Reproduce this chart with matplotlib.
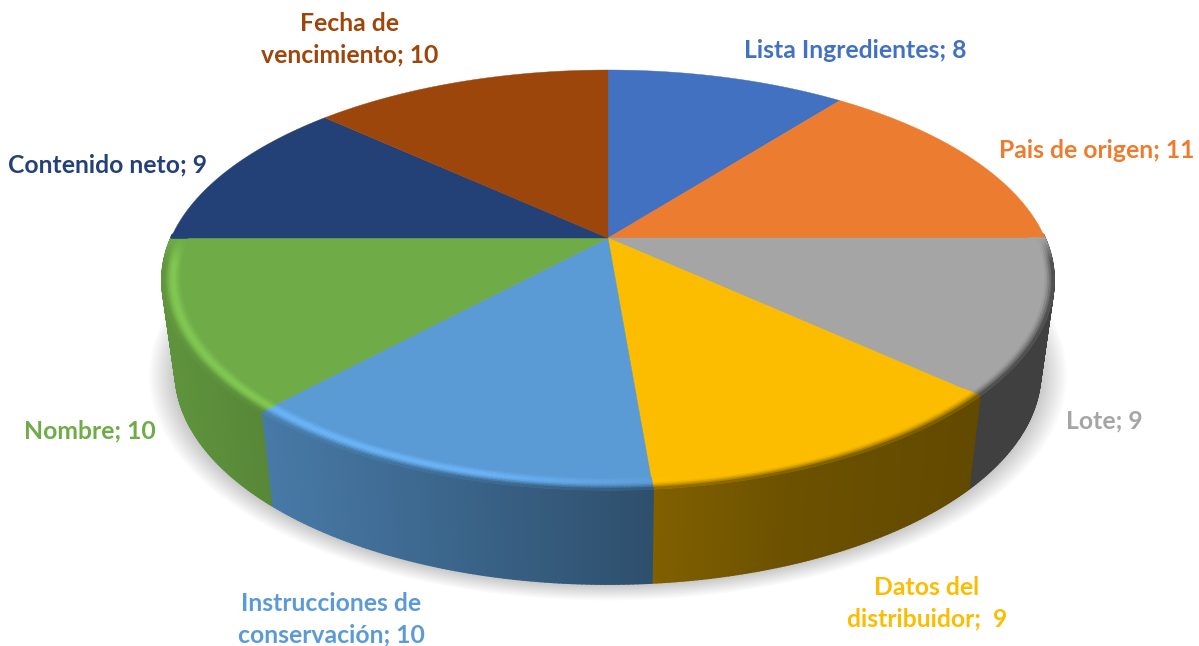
import matplotlib
matplotlib.use('Agg')
import matplotlib.pyplot as plt
from matplotlib.collections import PolyCollection
from matplotlib.colors import to_rgb
import numpy as np

labels = ['Lista Ingredientes; 8', 'Pais de origen; 11', 'Lote; 9', 'Datos del\ndistribuidor;  9',
          'Instrucciones de\nconservación; 10', 'Nombre; 10', 'Contenido neto; 9', 'Fecha de\nvencimiento; 10']
values = [8, 11, 9, 9, 10, 10, 9, 10]
colors = ['#4271C2', '#EB7C30', '#A5A5A5', '#FCBD00', '#5B9BD5', '#6FAC47', '#234176', '#9C460C']
label_x = [855, 1097, 1104, 927, 331, 90, 108, 350]
label_y = [51, 150, 421, 603, 619, 431, 165, 39]

# pixel geometry of the tilted pie
cx, cy = 608, 238
A, B, k = 437, 201.6, 0.2
drop, shrink_x, shrink_y = 91.5, 0.97, 1.01


def project(th, r=1.0):
    x, y = r * np.sin(th), r * np.cos(th)
    w = 1 + k * y
    return cx + A * x / w, cy - B * y / w


def lower(px, py):
    return cx + shrink_x * (px - cx), cy + drop + shrink_y * (py - cy)


def side_mult(px):
    return np.interp(px, [170, 650, 790, 970, 1050], [0.85, 0.51, 0.43, 0.39, 0.39])


def glow(px):
    return np.interp(px, [170, 480, 680], [0.16, 0.16, 0.0])


fig = plt.figure(figsize=(11.99, 6.46), dpi=100)
ax = fig.add_axes([0, 0, 1, 1])
ax.set_xlim(0, 1199)
ax.set_ylim(646, 0)
ax.axis('off')

# soft shadow under the pie
t = np.linspace(0, 2 * np.pi, 361)
ox, oy = lower(*project(t))
for i in range(1, 19):
    f = 1 + i * 0.0034
    ax.fill(cx + (ox - cx) * f, cy + drop + (oy - cy - drop) * f + 1, color='black', alpha=0.01, lw=0, zorder=1)

edges = np.cumsum([0] + values) / sum(values) * 2 * np.pi
side_polys, side_cols = [], []
bevel_polys, bevel_cols = [], []
bands = np.linspace(0.962, 1.0, 9)

for i, col in enumerate(colors):
    base = np.array(to_rgb(col))
    th0, th1 = edges[i], edges[i + 1]
    n = max(int((th1 - th0) / np.radians(0.5)), 2)
    ths = np.linspace(th0, th1, n + 1)

    # top face
    px, py = project(ths)
    ax.fill(np.r_[cx, px], np.r_[cy, py], color=col, lw=0.3, zorder=3)

    for a, b in zip(ths[:-1], ths[1:]):
        mid = (a + b) / 2
        if np.cos(mid) > 0.02:
            continue
        x0, y0 = project(a)
        x1, y1 = project(b)
        mx = (x0 + x1) / 2
        side = np.clip(base * side_mult(mx), 0, 1)
        bx0, by0 = lower(x0, y0)
        bx1, by1 = lower(x1, y1)
        side_polys.append([(x0, y0), (x1, y1), (bx1, by1), (bx0, by0)])
        side_cols.append(side)

        # rounded edge between top and side
        w = np.clip(-np.cos(mid) / 0.12, 0, 1)
        for j in range(len(bands) - 1):
            s = (j + 0.5) / (len(bands) - 1)
            blend = np.clip((s - 0.45) / 0.55, 0, 1) ** 1.5
            c = base * (1 - blend) + side * blend
            c = c * (1 + glow(mx) * np.sin(np.pi * min(s / 0.8, 1)))
            c = np.clip(base * (1 - w) + c * w, 0, 1)
            xa, ya = project(a, bands[j])
            xb, yb = project(b, bands[j])
            xc, yc = project(b, bands[j + 1])
            xd, yd = project(a, bands[j + 1])
            bevel_polys.append([(xa, ya), (xb, yb), (xc, yc), (xd, yd)])
            bevel_cols.append(c)

# thick edges so neighbouring strips overlap and leave no seams
ax.add_collection(PolyCollection(side_polys, facecolors=side_cols, edgecolors=side_cols, linewidths=1.3, zorder=2))
ax.add_collection(PolyCollection(bevel_polys, facecolors=bevel_cols, edgecolors=bevel_cols, linewidths=1.0, zorder=4))

for lab, col, lx, ly in zip(labels, colors, label_x, label_y):
    ax.text(lx, ly, lab, color=col, fontsize=17.8, family='Lato', fontweight='bold',
            ha='center', va='center', linespacing=1.43, zorder=5)

plt.savefig('out.png', dpi=100)
